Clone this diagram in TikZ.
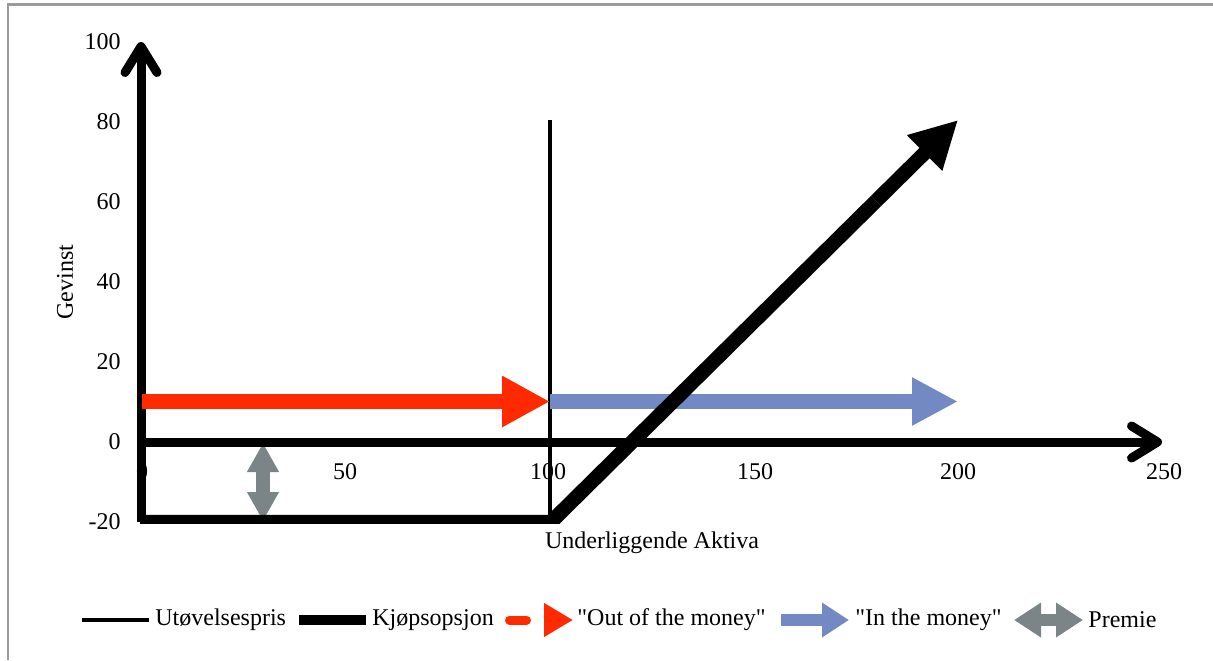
\documentclass[tikz,border=0pt]{standalone}
\usepackage{fontspec}
\setmainfont{Liberation Serif}[Ligatures=TeXOff]
\usetikzlibrary{arrows.meta}

\definecolor{outred}{RGB}{255,42,0}
\definecolor{inblue}{RGB}{114,137,196}
\definecolor{premgray}{RGB}{123,132,135}
\definecolor{framegray}{RGB}{155,155,155}

\tikzset{
  lbl/.style={inner sep=0pt, font=\fontsize{12}{14}\selectfont},
  axisline/.style={line width=4.5pt, -{Straight Barb[length=13pt,width=16pt,round]}},
  strikeline/.style={line width=2.4pt},
  callline/.style={line width=7.2pt},
  outarrow/.style={outred, line width=7.5pt, -{Triangle[width=24pt,length=24pt]}},
  inarrow/.style={inblue, line width=7.5pt, -{Triangle[width=22.5pt,length=23pt]}},
  premarrow/.style={premgray, line width=7pt, {Triangle[width=15pt,length=14.5pt]}-{Triangle[width=15pt,length=14.5pt]}}
}

\begin{document}
\begin{tikzpicture}[x=0.5pt, y=-0.5pt]
    \useasboundingbox (0,0) rectangle (1213,660);

    % frame
    \draw[framegray, line width=1.2pt] (8,660) -- (8,4.5) -- (1213,4.5);

    % tick labels
    \draw
    (121,42) node[lbl, anchor=east](y100){100}
    (121,122) node[lbl, anchor=east](y80){80}
    (121,202) node[lbl, anchor=east](y60){60}
    (121,282) node[lbl, anchor=east](y40){40}
    (121,362) node[lbl, anchor=east](y20){20}
    (121,442) node[lbl, anchor=east](y0){0}
    (121,522) node[lbl, anchor=east](ym20){-20}
    (142,472) node[lbl](x0){0}
    (345,472) node[lbl](x50){50}
    (548,472) node[lbl](x100){100}
    (755,472) node[lbl](x150){150}
    (958,472) node[lbl](x200){200}
    (1164,472) node[lbl](x250){250}
    (65,282) node[lbl, rotate=90](ylab){Gevinst}
    (652,543) node[lbl](xlab){Underliggende Aktiva};

    % points
    \draw
    (141,522) coordinate (Yb)
    (141,42) coordinate (Yt)
    (137,442) coordinate (Xl)
    (1162,442) coordinate (Xr)
    (550,120) coordinate (St)
    (550,522) coordinate (Sb)
    (263,443) coordinate (Pt)
    (263,521) coordinate (Pb)
    (142,401.5) coordinate (R0)
    (550,401.5) coordinate (R1)
    (958,401.5) coordinate (B1)
    (140,522) coordinate (K0)
    (551,522) coordinate (K1)
    (876,201) coordinate (K2)
    (958,120) coordinate (K3);

    \draw[strikeline] (St) -- (Sb);
    \draw[premarrow] (Pt) -- (Pb);
    \draw[axisline] (Yb) -- (Yt);
    \draw[axisline] (Xl) -- (Xr);
    \draw[outarrow] (R0) -- (R1);
    \draw[inarrow] (R1) -- (B1);
    \begin{scope}
      \clip (0,0) rectangle (1213,523.5);
      \draw[callline] (K0) -- (K1) -- (K2);
    \end{scope}
    \draw[callline, -{Triangle[width=23.5pt,length=23.5pt]}] (K2) -- (K3);

    % legend
    \draw
    (82,620) coordinate (L1a)
    (149,620) coordinate (L1b)
    (155,620) node[lbl, anchor=west](T1){Utøvelsespris}
    (299,620) coordinate (L2a)
    (366,620) coordinate (L2b)
    (372,620) node[lbl, anchor=west](T2){Kjøpsopsjon}
    (509.5,620) coordinate (L3a)
    (573,620) coordinate (L3b)
    (577,620) node[lbl, anchor=west](T3){"Out of the money"}
    (781,620) coordinate (L4a)
    (849,620) coordinate (L4b)
    (855,620) node[lbl, anchor=west](T4){"In the money"}
    (1014,620) coordinate (L5a)
    (1083,620) coordinate (L5b)
    (1088,620) node[lbl, anchor=west](T5){Premie};

    \draw[line width=2pt] (L1a) -- (L1b);
    \draw[line width=5pt] (L2a) -- (L2b);
    \draw[outred, line width=4.5pt, line cap=round, dash pattern=on 8.5pt off 10.5pt,
      -{Triangle[width=16pt,length=14.5pt]}] (L3a) -- (L3b);
    \draw[inblue, line width=6pt, -{Triangle[width=16.5pt,length=13.5pt]}] (L4a) -- (L4b);
    \draw[premgray, line width=6pt, {Triangle[width=16.5pt,length=13.5pt]}-{Triangle[width=16.5pt,length=13.5pt]}] (L5a) -- (L5b);

  \end{tikzpicture}
\end{document}
